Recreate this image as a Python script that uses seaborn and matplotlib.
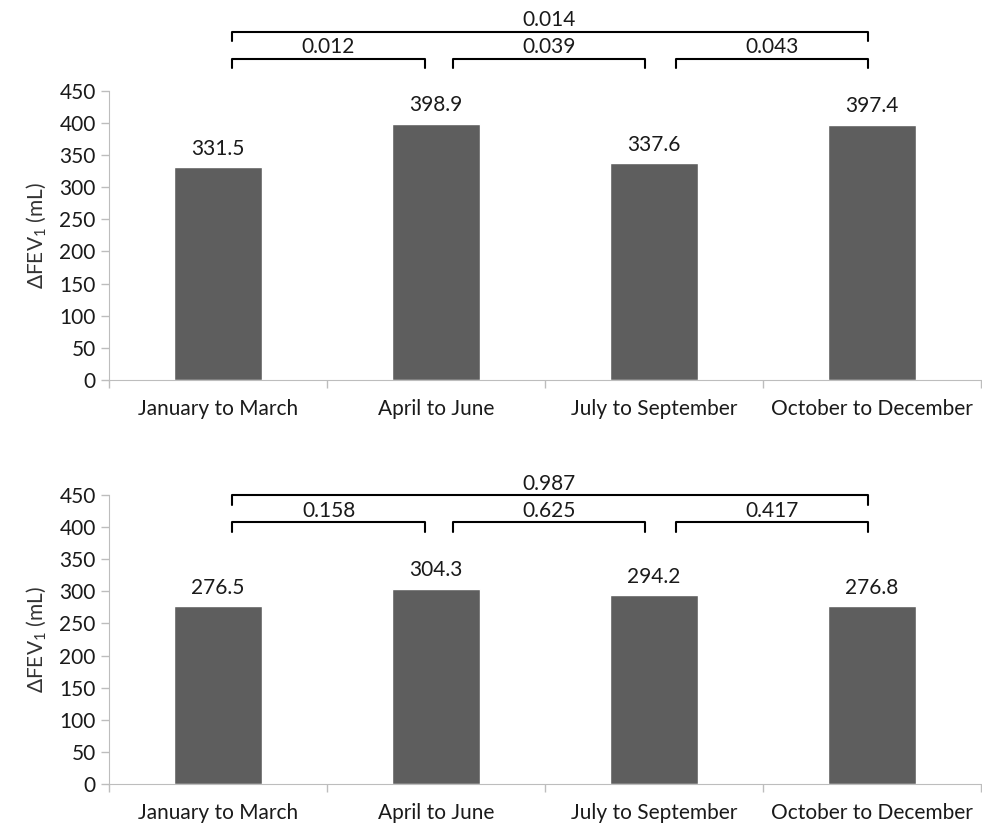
import matplotlib
matplotlib.use("Agg")
import matplotlib.pyplot as plt
import seaborn as sns
import pandas as pd

# Chart data
periods = ["January to March", "April to June", "July to September", "October to December"]
fev_top = [331.5, 398.9, 337.6, 397.4]
fev_bottom = [276.5, 304.3, 294.2, 276.8]
p_top = ["0.014", "0.012", "0.039", "0.043"]
p_bottom = ["0.987", "0.158", "0.625", "0.417"]
y_ticks = [0, 50, 100, 150, 200, 250, 300, 350, 400, 450]

sns.set_style("ticks")
plt.rcParams['font.family'] = ['Lato', 'DejaVu Sans']
plt.rcParams['mathtext.fontset'] = 'custom'
plt.rcParams['mathtext.rm'] = 'Lato'
plt.rcParams['mathtext.it'] = 'Lato'
plt.rcParams['mathtext.default'] = 'regular'

bar_color = "#5e5e5e"
spine_color = "#bdbdbd"
txt_color = "#1a1a1a"
fs = 15

fig = plt.figure(figsize=(9.82, 8.26), dpi=100)
ax_top = fig.add_axes([0.111, 0.540, 0.888, 0.350])
ax_bot = fig.add_axes([0.111, 0.0508, 0.888, 0.350])


def draw_panel(ax, values, pvals, y_full, y_pair):
    df = pd.DataFrame({"period": periods, "fev": values})
    sns.barplot(data=df, x="period", y="fev", ax=ax, color=bar_color,
                saturation=1, width=0.4)
    ax.bar_label(ax.containers[0], fmt="%.1f", padding=6, fontsize=fs, color=txt_color)
    ax.set_xlim(-0.5, 3.5)
    ax.set_ylim(0, 450)
    ax.set_yticks(y_ticks)
    ax.set_xlabel("")
    ax.set_ylabel(r"ΔFEV$_1$ (mL)", fontsize=fs, color="#333333", labelpad=8)
    ax.tick_params(axis="y", labelsize=fs, length=6, color=spine_color, width=1,
                   labelcolor=txt_color)
    ax.tick_params(axis="x", which="major", labelsize=fs, length=0, pad=14,
                   labelcolor=txt_color)
    ax.set_xticks([-0.5, 0.5, 1.5, 2.5, 3.5], minor=True)
    ax.tick_params(axis="x", which="minor", length=6, color=spine_color, width=1)
    for s in ["top", "right"]:
        ax.spines[s].set_visible(False)
    for s in ["left", "bottom"]:
        ax.spines[s].set_color(spine_color)

    # significance brackets
    lw = 1.5
    drop = 15
    ax.plot([0.064, 0.064, 2.98, 2.98], [y_full - drop, y_full, y_full, y_full - drop],
            color="black", lw=lw, clip_on=False)
    ax.text(1.52, y_full + 2, pvals[0], ha="center", va="bottom", fontsize=fs,
            color=txt_color)
    pairs = [(0.064, 0.95), (1.08, 1.96), (2.10, 2.98)]
    for (x0, x1), p in zip(pairs, pvals[1:]):
        ax.plot([x0, x0, x1, x1], [y_pair - drop, y_pair, y_pair, y_pair - drop],
                color="black", lw=lw, clip_on=False)
        ax.text((x0 + x1) / 2, y_pair + 2, p, ha="center", va="bottom", fontsize=fs,
                color=txt_color)


draw_panel(ax_top, fev_top, p_top, 542, 500)
draw_panel(ax_bot, fev_bottom, p_bottom, 450, 408)

fig.savefig("out.png", dpi=100)
